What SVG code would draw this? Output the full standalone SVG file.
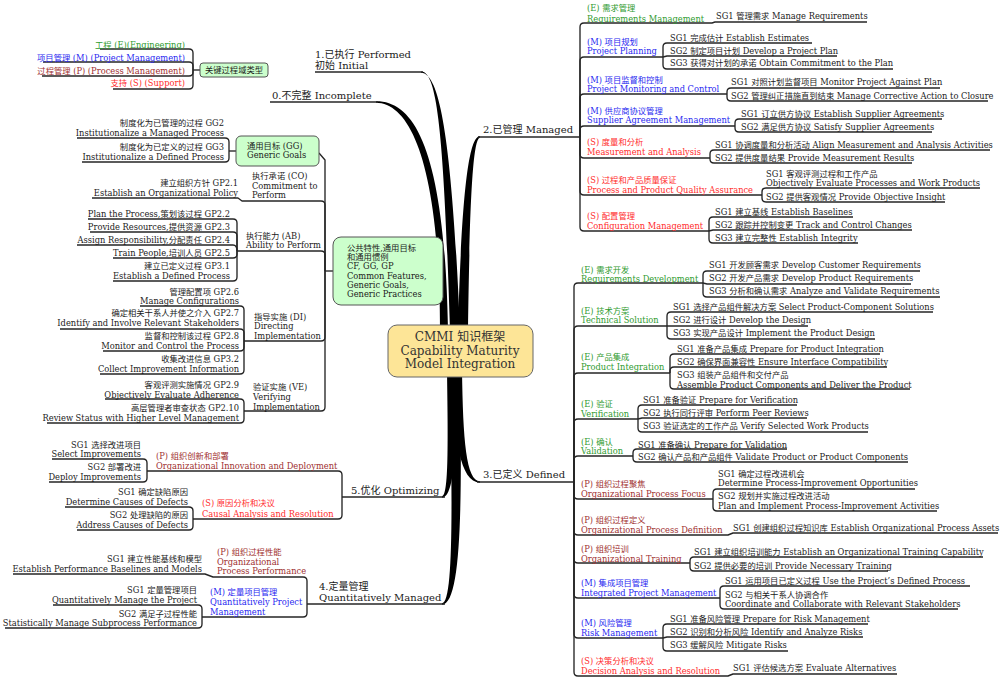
<svg xmlns="http://www.w3.org/2000/svg" width="1004" height="684" viewBox="0 0 1004 684">
<style>
.t{font-family:"DejaVu Serif","Noto Sans CJK SC",serif;font-size:8.3px;fill:#1a1a1a}
.e{text-anchor:end}
.g{fill:#2f9b2f}.b{fill:#2828f0}.p{fill:#a03030}.s{fill:#ff2b2b}
.lv{font-size:10px}
.c{font-size:12px;text-anchor:middle;fill:#333}
.ln{fill:none;stroke:#262626;stroke-width:1.35;stroke-linejoin:round}
.bx{fill:#ccffcc;stroke:#555;stroke-width:1}
.tk{fill:#000}
</style>
<rect width="1004" height="684" fill="#fff"/>
<g id="connectors">
<g class="tk">
<path d="M421,71.4 C438,71 444,140 450,330 L460,330 C452,140 440,73 421,72.8 Z"/>
<path d="M376,101.3 C418,101 445,160 448,330 L440,330 C440,170 412,103 376,102.7 Z"/>
<path d="M480,136.3 C470,136 462,180 458,330 L468,330 C470,180 474,138 480,137.7 Z"/>
<path d="M452,370 C454,440 460,482 480,482.7 L480,481.3 C466,481 463,440 462,370 Z"/>
<path d="M457,370 C456,440 456,497 442,497.7 L442,496.3 C449,496 448,440 447,370 Z"/>
<path d="M460,370 C462,500 462,604 442,604.7 L442,603.3 C454,603 452,500 450,370 Z"/>
</g>
<g class="ln">
<path d="M315,72 H423"/>
<path d="M270,102 H378"/>
<path d="M478,137 H580"/>
<path d="M477,482 H574"/>
<path d="M445,497 H342"/>
<path d="M445,604 H307"/>
<path d="M200,70 H193"/>
<path d="M193,70 V53 Q193,49 189,49 H100"/>
<path d="M193,70 V66 Q193,62 189,62 H43"/>
<path d="M193,70 V72 Q193,76 189,76 H42"/>
<path d="M193,70 V85 Q193,89 189,89 H113"/>
<path d="M236,151 H229"/>
<path d="M229,151 V142 Q229,138 225,138 H77"/>
<path d="M229,151 V158 Q229,162 225,162 H82"/>
<path d="M333,271 H325"/>
<path d="M325,271 V160 L319,153"/>
<path d="M325,271 V205 Q325,201 321,201 H242 L238,198 H92"/>
<path d="M325,271 V255 Q325,251 321,251 H237"/>
<path d="M325,271 V337 Q325,341 321,341 H244"/>
<path d="M325,271 V407 Q325,411 321,411 H244"/>
<path d="M237,251 V223 Q237,219 233,219 H88"/>
<path d="M237,251 V236 Q237,232 233,232 H90"/>
<path d="M237,251 Q237,245 233,245 H77"/>
<path d="M237,251 V254 Q237,258 233,258 H113"/>
<path d="M237,251 V277 Q237,281 233,281 H113"/>
<path d="M244,341 V310 Q244,306 240,306 H140"/>
<path d="M244,341 V333 Q244,329 240,329 H60"/>
<path d="M244,341 V347 Q244,351 240,351 H103"/>
<path d="M244,341 V370 Q244,374 240,374 H100"/>
<path d="M244,411 V403 Q244,399 240,399 H105"/>
<path d="M244,411 V419 Q244,423 240,423 H47"/>
<path d="M342,497 V475 Q342,471 338,471 H147"/>
<path d="M342,497 V515 Q342,519 338,519 H193"/>
<path d="M147,471 V463 Q147,459 143,459 H52"/>
<path d="M147,471 V478 Q147,482 143,482 H49"/>
<path d="M193,519 V511 Q193,507 189,507 H65"/>
<path d="M193,519 V526 Q193,530 189,530 H77"/>
<path d="M307,604 V581 Q307,577 303,577 H213 L205,574 H13"/>
<path d="M307,604 V613 Q307,617 303,617 H202"/>
<path d="M202,617 V609 Q202,605 198,605 H53"/>
<path d="M202,617 V624 Q202,628 198,628 H5"/>
<path d="M580,137 V27 Q580,23 584,23 H712 L715,22 H867"/>
<path d="M580,137 V61 Q580,57 584,57 H663"/>
<path d="M580,137 V98 Q580,94 584,94 H727"/>
<path d="M580,137 V130 Q580,126 584,126 H735"/>
<path d="M580,137 V154 Q580,158 584,158 H710"/>
<path d="M580,137 V191 Q580,195 584,195 H762"/>
<path d="M580,137 V227 Q580,231 584,231 H709"/>
<path d="M663,57 V47 Q663,43 667,43 H812"/>
<path d="M663,57 L667,56 H837"/>
<path d="M663,57 V65 Q663,69 667,69 H893"/>
<path d="M727,94 V92 Q727,88 731,88 H940"/>
<path d="M727,94 V97 Q727,101 731,101 H988"/>
<path d="M735,126 V123 Q735,119 739,119 H942"/>
<path d="M735,126 V128 Q735,132 739,132 H932"/>
<path d="M710,158 V154 Q710,150 714,150 H990"/>
<path d="M710,158 V159 Q710,163 714,163 H912"/>
<path d="M762,195 V192 Q762,188 766,188 H980"/>
<path d="M762,195 V198 Q762,202 766,202 H945"/>
<path d="M709,231 V221 Q709,217 713,217 H853"/>
<path d="M709,231 L713,230 H912"/>
<path d="M709,231 V239 Q709,243 713,243 H858"/>
<path d="M574,482 V287 Q574,283 578,283 H703"/>
<path d="M574,482 V330 Q574,326 578,326 H667"/>
<path d="M574,482 V377 Q574,373 578,373 H670"/>
<path d="M574,482 V423 Q574,419 578,419 H638"/>
<path d="M574,482 V460 Q574,456 578,456 H633"/>
<path d="M574,482 V495 Q574,499 578,499 H713"/>
<path d="M574,482 V531 Q574,535 578,535 H728 L733,533 H998"/>
<path d="M574,482 V559 Q574,563 578,563 H690"/>
<path d="M574,482 V594 Q574,598 578,598 H720"/>
<path d="M574,482 V634 Q574,638 578,638 H663"/>
<path d="M574,482 V672 Q574,676 578,676 H728 L733,674 H897"/>
<path d="M703,283 V275 Q703,271 707,271 H920"/>
<path d="M703,283 L707,284 H911"/>
<path d="M703,283 V293 Q703,297 707,297 H940"/>
<path d="M667,326 V316 Q667,312 671,312 H933"/>
<path d="M667,326 H808"/>
<path d="M667,326 V335 Q667,339 671,339 H875"/>
<path d="M670,373 V358 Q670,354 674,354 H880"/>
<path d="M670,373 V371 Q670,367 674,367 H887"/>
<path d="M670,373 V385 Q670,389 674,389 H910"/>
<path d="M638,419 V409 Q638,405 642,405 H797"/>
<path d="M638,419 L642,418 H807"/>
<path d="M638,419 V428 Q638,432 642,432 H868"/>
<path d="M633,456 V453 Q633,449 637,449 H787"/>
<path d="M633,456 V458 Q633,462 637,462 H908"/>
<path d="M713,499 V493 Q713,489 717,489 H915"/>
<path d="M713,499 V507 Q713,511 717,511 H937"/>
<path d="M690,563 V561 Q690,557 694,557 H983"/>
<path d="M690,563 V567 Q690,571 694,571 H888"/>
<path d="M720,598 V590 Q720,586 724,586 H970"/>
<path d="M720,598 V605 Q720,609 724,609 H958"/>
<path d="M663,638 V628 Q663,624 667,624 H868"/>
<path d="M663,638 L667,637 H863"/>
<path d="M663,638 V647 Q663,651 667,651 H788"/>
</g>
</g>

<g id="center">
<rect x="388" y="325" width="145" height="52" rx="9" fill="#fde597" stroke="#666" stroke-width="1"/>
<text class="t c"><tspan x="460" y="341">CMMI 知识框架</tspan><tspan x="460" y="355">Capability Maturity</tspan><tspan x="460" y="368">Model Integration</tspan></text>
</g>

<g id="level1"><text class="t lv"><tspan x="315" y="57.5">1.已执行 Performed</tspan><tspan x="315" y="68.5">初始 Initial</tspan></text></g>
<g id="level0"><text class="t lv" x="272" y="98.5">0.不完整 Incomplete</text></g>
<g id="level2"><text class="t lv" x="483" y="132.5">2.已管理 Managed</text></g>
<g id="level3"><text class="t lv" x="483" y="477.5">3.已定义 Defined</text></g>
<g id="level5"><text class="t lv" x="351" y="493.5">5.优化 Optimizing</text></g>
<g id="level4"><text class="t lv"><tspan x="319" y="589.5">4.定量管理</tspan><tspan x="319" y="600.5">Quantitatively Managed</tspan></text></g>

<g id="keytypes">
<rect class="bx" x="200" y="63" width="68" height="14" rx="3"/>
<text class="t" x="234" y="73" text-anchor="middle">关键过程域类型</text>
<text class="t e g" x="185" y="47.5">工程 (E)(Engineering)</text>
<text class="t e b" x="185" y="60.5">项目管理 (M) (Project Management)</text>
<text class="t e p" x="185" y="73.5">过程管理 (P) (Process Management)</text>
<text class="t e s" x="185" y="85.5">支持 (S) (Support)</text>
</g>

<g id="generic-goals">
<rect class="bx" x="236" y="136" width="83" height="30" rx="5"/>
<text class="t"><tspan x="247" y="148.5">通用目标 (GG)</tspan><tspan x="247" y="157.5">Generic Goals</tspan></text>
<text class="t e"><tspan x="224" y="125.5">制度化为已管理的过程 GG2</tspan><tspan x="224" y="135.5">Institutionalize a Managed Process</tspan></text>
<text class="t e"><tspan x="224" y="149.5">制度化为已定义的过程 GG3</tspan><tspan x="224" y="159.5">Institutionalize a Defined Process</tspan></text>
</g>

<g id="common-features">
<rect class="bx" x="333" y="237" width="110" height="68" rx="8"/>
<text class="t"><tspan x="347" y="250.5">公共特性,通用目标</tspan><tspan x="347" y="259.5">和通用惯例</tspan><tspan x="347" y="268.5">CF, GG, GP</tspan><tspan x="347" y="278.5">Common Features,</tspan><tspan x="347" y="287.5">Generic Goals,</tspan><tspan x="347" y="296.5">Generic Practices</tspan></text>
</g>

<g id="co">
<text class="t"><tspan x="252" y="178.5">执行承诺 (CO)</tspan><tspan x="252" y="188.5">Commitment to</tspan><tspan x="252" y="197.5">Perform</tspan></text>
<text class="t e"><tspan x="238" y="185.5">建立组织方针 GP2.1</tspan><tspan x="238" y="195.5">Establish an Organizational Policy</tspan></text>
</g>

<g id="ab">
<text class="t"><tspan x="246" y="238.5">执行能力 (AB)</tspan><tspan x="246" y="247.5">Ability to Perform</tspan></text>
<text class="t e" x="230" y="216.5">Plan the Process,策划该过程 GP2.2</text>
<text class="t e" x="230" y="229.5">Provide Resources,提供资源 GP2.3</text>
<text class="t e" x="230" y="242.5">Assign Responsibility,分配责任 GP2.4</text>
<text class="t e" x="230" y="255.5">Train People,培训人员 GP2.5</text>
<text class="t e"><tspan x="230" y="268.5">建立已定义过程 GP3.1</tspan><tspan x="230" y="278.5">Establish a Defined Process</tspan></text>
</g>

<g id="di">
<text class="t"><tspan x="254" y="319.5">指导实施 (DI)</tspan><tspan x="254" y="328.5">Directing</tspan><tspan x="254" y="338.5">Implementation</tspan></text>
<text class="t e"><tspan x="239" y="294.5">管理配置项 GP2.6</tspan><tspan x="239" y="303.5">Manage Configurations</tspan></text>
<text class="t e"><tspan x="239" y="315.5">确定相关干系人并使之介入 GP2.7</tspan><tspan x="239" y="325.5">Identify and Involve Relevant Stakeholders</tspan></text>
<text class="t e"><tspan x="239" y="338.5">监督和控制该过程 GP2.8</tspan><tspan x="239" y="348.5">Monitor and Control the Process</tspan></text>
<text class="t e"><tspan x="239" y="361.5">收集改进信息 GP3.2</tspan><tspan x="239" y="371.5">Collect Improvement Information</tspan></text>
</g>

<g id="ve">
<text class="t"><tspan x="253" y="389.5">验证实施 (VE)</tspan><tspan x="253" y="399.5">Verifying</tspan><tspan x="253" y="409.5">Implementation</tspan></text>
<text class="t e"><tspan x="239" y="387.5">客观评测实施情况 GP2.9</tspan><tspan x="239" y="397.5">Objectively Evaluate Adherence</tspan></text>
<text class="t e"><tspan x="239" y="410.5">高层管理者审查状态 GP2.10</tspan><tspan x="239" y="420.5">Review Status with Higher Level Management</tspan></text>
</g>

<g id="oid">
<text class="t p"><tspan x="156" y="458.5">(P) 组织创新和部署</tspan><tspan x="156" y="468.5">Organizational Innovation and Deployment</tspan></text>
<text class="t e"><tspan x="141" y="447.5">SG1 选择改进项目</tspan><tspan x="141" y="456.5">Select Improvements</tspan></text>
<text class="t e"><tspan x="141" y="469.5">SG2 部署改进</tspan><tspan x="141" y="479.5">Deploy Improvements</tspan></text>
</g>

<g id="car">
<text class="t s"><tspan x="202" y="505.5">(S) 原因分析和决议</tspan><tspan x="202" y="516.5">Causal Analysis and Resolution</tspan></text>
<text class="t e"><tspan x="188" y="494.5">SG1 确定缺陷原因</tspan><tspan x="188" y="504.5">Determine Causes of Defects</tspan></text>
<text class="t e"><tspan x="188" y="517.5">SG2 处理缺陷的原因</tspan><tspan x="188" y="527.5">Address Causes of Defects</tspan></text>
</g>

<g id="opp">
<text class="t p"><tspan x="217" y="554.5">(P) 组织过程性能</tspan><tspan x="217" y="564.5">Organizational</tspan><tspan x="217" y="573.5">Process Performance</tspan></text>
<text class="t e"><tspan x="202" y="561.5">SG1 建立性能基线和模型</tspan><tspan x="202" y="571.5">Establish Performance Baselines and Models</tspan></text>
</g>

<g id="qpm">
<text class="t b"><tspan x="210" y="594.5">(M) 定量项目管理</tspan><tspan x="210" y="604.5">Quantitatively Project</tspan><tspan x="210" y="614.5">Management</tspan></text>
<text class="t e"><tspan x="197" y="592.5">SG1 定量管理项目</tspan><tspan x="197" y="602.5">Quantitatively Manage the Project</tspan></text>
<text class="t e"><tspan x="197" y="616.5">SG2 满足子过程性能</tspan><tspan x="197" y="625.5">Statistically Manage Subprocess Performance</tspan></text>
</g>

<g id="rm">
<text class="t g"><tspan x="587" y="10.5">(E) 需求管理</tspan><tspan x="587" y="21.5">Requirements Management</tspan></text>
<text class="t" x="716" y="18.5">SG1 管理需求 Manage Requirements</text>
</g>
<g id="pp">
<text class="t b"><tspan x="587" y="44.5">(M) 项目规划</tspan><tspan x="587" y="53.5">Project Planning</tspan></text>
<text class="t" x="670" y="40.5">SG1 完成估计 Establish Estimates</text>
<text class="t" x="670" y="53.5">SG2 制定项目计划 Develop a Project Plan</text>
<text class="t" x="670" y="65.5">SG3 获得对计划的承诺 Obtain Commitment to the Plan</text>
</g>
<g id="pmc">
<text class="t b"><tspan x="587" y="82.5">(M) 项目监督和控制</tspan><tspan x="587" y="91.5">Project Monitoring and Control</tspan></text>
<text class="t" x="731" y="84.5">SG1 对照计划监督项目 Monitor Project Against Plan</text>
<text class="t" x="731" y="98.5">SG2 管理纠正措施直到结束 Manage Corrective Action to Closure</text>
</g>
<g id="sam">
<text class="t b"><tspan x="587" y="113.5">(M) 供应商协议管理</tspan><tspan x="587" y="122.5">Supplier Agreement Management</tspan></text>
<text class="t" x="741" y="116.5">SG1 订立供方协议 Establish Supplier Agreements</text>
<text class="t" x="741" y="129.5">SG2 满足供方协议 Satisfy Supplier Agreements</text>
</g>
<g id="ma">
<text class="t s"><tspan x="587" y="144.5">(S) 度量和分析</tspan><tspan x="587" y="154.5">Measurement and Analysis</tspan></text>
<text class="t" x="715" y="147.5">SG1 协调度量和分析活动 Align Measurement and Analysis Activities</text>
<text class="t" x="715" y="160.5">SG2 提供度量结果 Provide Measurement Results</text>
</g>
<g id="ppqa">
<text class="t s"><tspan x="587" y="182.5">(S) 过程和产品质量保证</tspan><tspan x="587" y="192.5">Process and Product Quality Assurance</tspan></text>
<text class="t"><tspan x="766" y="176.5">SG1 客观评测过程和工作产品</tspan><tspan x="766" y="185.5">Objectively Evaluate Processes and Work Products</tspan></text>
<text class="t" x="766" y="199.5">SG2 提供客观情况 Provide Objective Insight</text>
</g>
<g id="cm">
<text class="t s"><tspan x="587" y="218.5">(S) 配置管理</tspan><tspan x="587" y="228.5">Configuration Management</tspan></text>
<text class="t" x="715" y="214.5">SG1 建立基线 Establish Baselines</text>
<text class="t" x="715" y="227.5">SG2 跟踪并控制变更 Track and Control Changes</text>
<text class="t" x="715" y="240.5">SG3 建立完整性 Establish Integrity</text>
</g>

<g id="rd">
<text class="t g"><tspan x="581" y="272.5">(E) 需求开发</tspan><tspan x="581" y="281.5">Requirements Development</tspan></text>
<text class="t" x="709" y="267.5">SG1 开发顾客需求 Develop Customer Requirements</text>
<text class="t" x="709" y="280.5">SG2 开发产品需求 Develop Product Requirements</text>
<text class="t" x="709" y="293.5">SG3 分析和确认需求 Analyze and Validate Requirements</text>
</g>
<g id="ts">
<text class="t g"><tspan x="581" y="313.5">(E) 技术方案</tspan><tspan x="581" y="322.5">Technical Solution</tspan></text>
<text class="t" x="673" y="309.5">SG1 选择产品组件解决方案 Select Product-Component Solutions</text>
<text class="t" x="673" y="322.5">SG2 进行设计 Develop the Design</text>
<text class="t" x="673" y="335.5">SG3 实现产品设计 Implement the Product Design</text>
</g>
<g id="pi">
<text class="t g"><tspan x="581" y="359.5">(E) 产品集成</tspan><tspan x="581" y="369.5">Product Integration</tspan></text>
<text class="t" x="677" y="351.5">SG1 准备产品集成 Prepare for Product Integration</text>
<text class="t" x="677" y="364.5">SG2 确保界面兼容性 Ensure Interface Compatibility</text>
<text class="t"><tspan x="677" y="377.5">SG3 组装产品组件和交付产品</tspan><tspan x="677" y="387.5">Assemble Product Components and Deliver the Product</tspan></text>
</g>
<g id="ver">
<text class="t g"><tspan x="581" y="406.5">(E) 验证</tspan><tspan x="581" y="416.5">Verification</tspan></text>
<text class="t" x="643" y="402.5">SG1 准备验证 Prepare for Verification</text>
<text class="t" x="643" y="415.5">SG2 执行同行评审 Perform Peer Reviews</text>
<text class="t" x="643" y="428.5">SG3 验证选定的工作产品 Verify Selected Work Products</text>
</g>
<g id="val">
<text class="t g"><tspan x="581" y="444.5">(E) 确认</tspan><tspan x="581" y="453.5">Validation</tspan></text>
<text class="t" x="638" y="447.5">SG1 准备确认 Prepare for Validation</text>
<text class="t" x="638" y="459.5">SG2 确认产品和产品组件 Validate Product or Product Components</text>
</g>
<g id="opf">
<text class="t p"><tspan x="581" y="486.5">(P) 组织过程聚焦</tspan><tspan x="581" y="496.5">Organizational Process Focus</tspan></text>
<text class="t"><tspan x="718" y="476.5">SG1 确定过程改进机会</tspan><tspan x="718" y="485.5">Determine Process-Improvement Opportunities</tspan></text>
<text class="t"><tspan x="718" y="498.5">SG2 规划并实施过程改进活动</tspan><tspan x="718" y="508.5">Plan and Implement Process-Improvement Activities</tspan></text>
</g>
<g id="opd">
<text class="t p"><tspan x="581" y="522.5">(P) 组织过程定义</tspan><tspan x="581" y="532.5">Organizational Process Definition</tspan></text>
<text class="t" x="733" y="531">SG1 创建组织过程知识库 Establish Organizational Process Assets</text>
</g>
<g id="ot">
<text class="t p"><tspan x="581" y="551.5">(P) 组织培训</tspan><tspan x="581" y="561.5">Organizational Training</tspan></text>
<text class="t" x="694" y="554.5">SG1 建立组织培训能力 Establish an Organizational Training Capability</text>
<text class="t" x="694" y="568.5">SG2 提供必要的培训 Provide Necessary Training</text>
</g>
<g id="ipm">
<text class="t b"><tspan x="581" y="585.5">(M) 集成项目管理</tspan><tspan x="581" y="595.5">Integrated Project Management</tspan></text>
<text class="t" x="725" y="583.5">SG1 运用项目已定义过程 Use the Project’s Defined Process</text>
<text class="t"><tspan x="725" y="597.5">SG2 与相关干系人协调合作</tspan><tspan x="725" y="606.5">Coordinate and Collaborate with Relevant Stakeholders</tspan></text>
</g>
<g id="rskm">
<text class="t b"><tspan x="581" y="625.5">(M) 风险管理</tspan><tspan x="581" y="635.5">Risk Management</tspan></text>
<text class="t" x="670" y="621.5">SG1 准备风险管理 Prepare for Risk Management</text>
<text class="t" x="670" y="634.5">SG2 识别和分析风险 Identify and Analyze Risks</text>
<text class="t" x="670" y="647.5">SG3 缓解风险 Mitigate Risks</text>
</g>
<g id="dar">
<text class="t s"><tspan x="581" y="663.5">(S) 决策分析和决议</tspan><tspan x="581" y="673.5">Decision Analysis and Resolution</tspan></text>
<text class="t" x="733" y="670.5">SG1 评估候选方案 Evaluate Alternatives</text>
</g>
</svg>
